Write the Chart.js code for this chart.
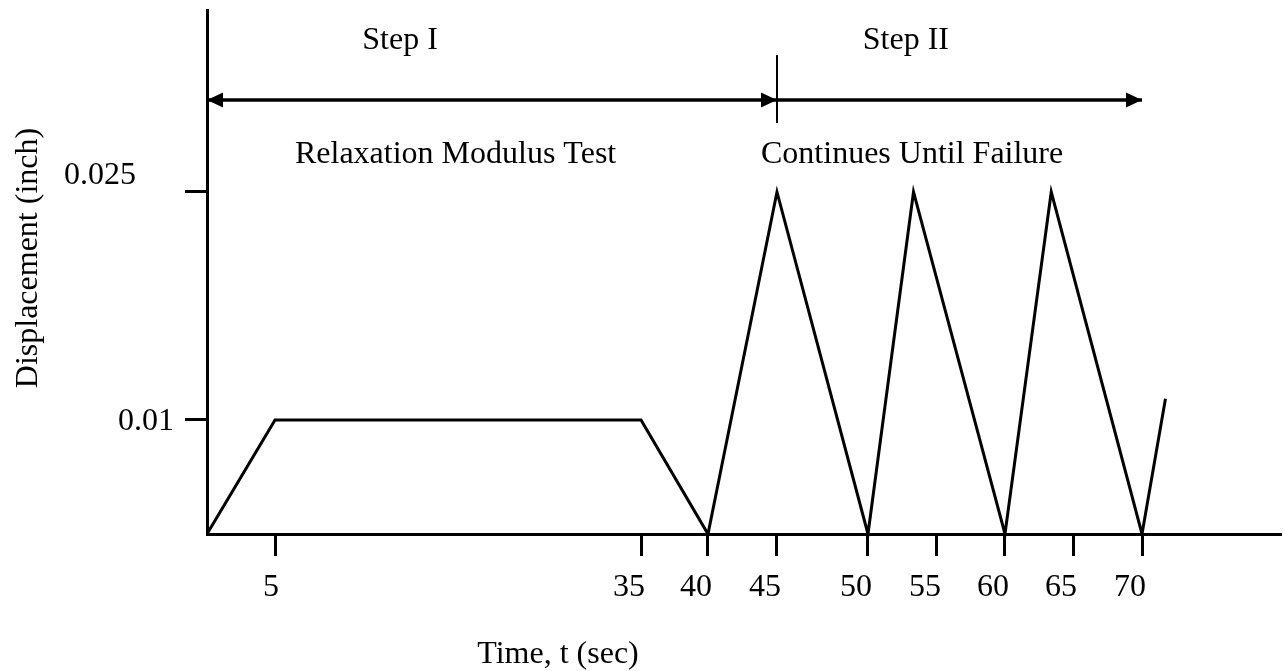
<!DOCTYPE html>
<html>
<head>
<meta charset="utf-8">
<script src="https://cdn.jsdelivr.net/npm/chart.js@4.4.1/dist/chart.umd.min.js"></script>
<style>
  html, body { margin: 0; padding: 0; background: #fff; }
  #wrap { width: 1285px; height: 671px; position: relative; }
</style>
</head>
<body>
<div id="wrap"><canvas id="loadChart"></canvas></div>
<script>
//Loading history: time (sec) and displacement (inch)
let Times = [0, 5, 35, 40, 45, 50, 53.3, 60, 63.4, 70, 71.7];
let Displacement = [0, 0.01, 0.01, 0, 0.025, 0, 0.025, 0, 0.025, 0, 0.0114];

//Tick labels
let TimeTicks = [5, 35, 40, 45, 50, 55, 60, 65, 70];
let DispTicks = [0.01, 0.025];
let DispTickLabels = ['0.01', '0.025'];

//Test steps (start / end times)
let StepBounds = [0, 45, 70];
let StepNames = ['Step I', 'Step II'];
let StepNotes = ['Relaxation Modulus Test', 'Continues Until Failure'];

const SerifFont = 'Liberation Serif';

//The drawing is a schematic, its axes are not evenly spaced.
//This scale maps values piecewise linear through "knots" [value, fraction of axis]
class WarpScale extends Chart.LinearScale {
    toFraction(v) {
        const k = this.options.knots;
        let i = 1;
        while (i < k.length - 1 && v > k[i][0]) i++;
        const [v0, f0] = k[i - 1];
        const [v1, f1] = k[i];
        return f0 + (v - v0) * (f1 - f0) / (v1 - v0);
    }
    fromFraction(f) {
        const k = this.options.knots;
        let i = 1;
        while (i < k.length - 1 && f > k[i][1]) i++;
        const [v0, f0] = k[i - 1];
        const [v1, f1] = k[i];
        return v0 + (f - f0) * (v1 - v0) / (f1 - f0);
    }
    getPixelForValue(value) {
        if (value === null || value === undefined) return NaN;
        return this.getPixelForDecimal(this.toFraction(value));
    }
    getValueForPixel(pixel) {
        return this.fromFraction(this.getDecimalForPixel(pixel));
    }
}
WarpScale.id = 'warp';
Chart.register(WarpScale);

//Arrows, step texts, y tick labels and axis titles
const StepPlugin = {
    id: 'steps',
    afterDraw(chart, args, opts) {
        const { ctx, scales: { x, y } } = chart;
        const yArrow = y.getPixelForValue(opts.arrowAt);
        const xs = StepBounds.map(t => x.getPixelForValue(t));

        ctx.save();
        ctx.strokeStyle = '#000';
        ctx.fillStyle = '#000';

        ctx.lineWidth = 3.5;
        ctx.beginPath();
        ctx.moveTo(xs[0], yArrow);
        ctx.lineTo(xs[xs.length - 1], yArrow);
        ctx.stroke();

        const head = (tip, dir) => {
            ctx.beginPath();
            ctx.moveTo(tip, yArrow);
            ctx.lineTo(tip - dir * 16, yArrow - 7.5);
            ctx.lineTo(tip - dir * 16, yArrow + 7.5);
            ctx.closePath();
            ctx.fill();
        };
        head(xs[0], -1);
        for (let i = 1; i < xs.length; i++) head(xs[i], 1);

        ctx.lineWidth = 2;
        for (let i = 1; i < xs.length - 1; i++) {
            ctx.beginPath();
            ctx.moveTo(xs[i], yArrow - 45);
            ctx.lineTo(xs[i], yArrow + 23);
            ctx.stroke();
        }

        ctx.font = `32px "${SerifFont}"`;
        ctx.textAlign = 'center';
        ctx.textBaseline = 'alphabetic';
        StepNames.forEach((s, i) => {
            ctx.fillText(s, x.getPixelForValue(opts.nameAt[i]), y.getPixelForValue(opts.nameLevel));
        });
        StepNotes.forEach((s, i) => {
            ctx.fillText(s, x.getPixelForValue(opts.noteAt[i]), y.getPixelForValue(opts.noteLevel));
        });

        //y tick labels are placed by hand in the original figure
        ctx.textAlign = 'right';
        ctx.textBaseline = 'middle';
        DispTicks.forEach((v, i) => {
            ctx.fillText(DispTickLabels[i], opts.dispLabelRight[i], y.getPixelForValue(v) + opts.dispLabelShift[i]);
        });

        //axis titles
        ctx.textAlign = 'center';
        ctx.textBaseline = 'alphabetic';
        ctx.fillText('Time, t (sec)', 558, 663);
        ctx.translate(37, 258);
        ctx.rotate(-Math.PI / 2);
        ctx.fillText('Displacement (inch)', 0, 0);
        ctx.restore();
    }
};

const data = {
    datasets: [{
        label: 'Displacement',
        data: Times.map((t, i) => ({ x: t, y: Displacement[i] })),
        borderColor: '#000',
        borderWidth: 3,
        pointRadius: 0,
        tension: 0,
        fill: false,
        clip: false,
    }]
};

const tickFont = { family: SerifFont, size: 32 };

const scales = {
    x: {
        type: 'warp',
        min: 0,
        max: 80,
        knots: [[0, 0], [5, 0.0634], [35, 0.4045], [40, 0.4669], [45, 0.5312], [50, 0.6160],
                [55, 0.6803], [60, 0.7437], [65, 0.8071], [70, 0.8714], [80, 1]],
        afterBuildTicks: s => { s.ticks = TimeTicks.map(v => ({ value: v })); },
        afterFit: s => { s.height = 137; },
        ticks: {
            autoSkip: false,
            maxRotation: 0,
            align: 'end',
            labelOffset: 4,
            padding: 12,
            color: '#000',
            font: tickFont,
            callback: v => String(v)
        },
        grid: { drawOnChartArea: false, drawTicks: true, tickLength: 22, color: '#000', lineWidth: 3 },
        border: { display: true, color: '#000', width: 3 }
    },
    y: {
        type: 'warp',
        min: 0,
        max: 0.037,
        knots: [[0, 0], [0.01, 0.2176], [0.025, 0.6527], [0.037, 1]],
        afterBuildTicks: s => { s.ticks = DispTicks.map(v => ({ value: v })); },
        afterFit: s => { s.width = 207; s.paddingTop = 0; s.paddingBottom = 0; },
        ticks: { display: false },
        grid: { drawOnChartArea: false, drawTicks: true, tickLength: 22, color: '#000', lineWidth: 3 },
        border: { display: true, color: '#000', width: 3 }
    }
};

const config = {
    type: 'line',
    data: data,
    options: {
        responsive: true,
        maintainAspectRatio: false,
        animation: false,
        layout: { padding: { top: 10, right: 5, left: 0, bottom: 0 } },
        scales: scales,
        plugins: {
            legend: { display: false },
            tooltip: { enabled: false },
            steps: {
                arrowAt: 0.03106,
                nameLevel: 0.03443,
                noteLevel: 0.02691,
                nameAt: [15.25, 52.75],
                noteAt: [19.8, 53.2],
                dispLabelRight: [174, 136],
                dispLabelShift: [2, -16]
            }
        }
    },
    plugins: [StepPlugin]
};

let LoadChart = new Chart(document.getElementById('loadChart'), config);
</script>
</body>
</html>
